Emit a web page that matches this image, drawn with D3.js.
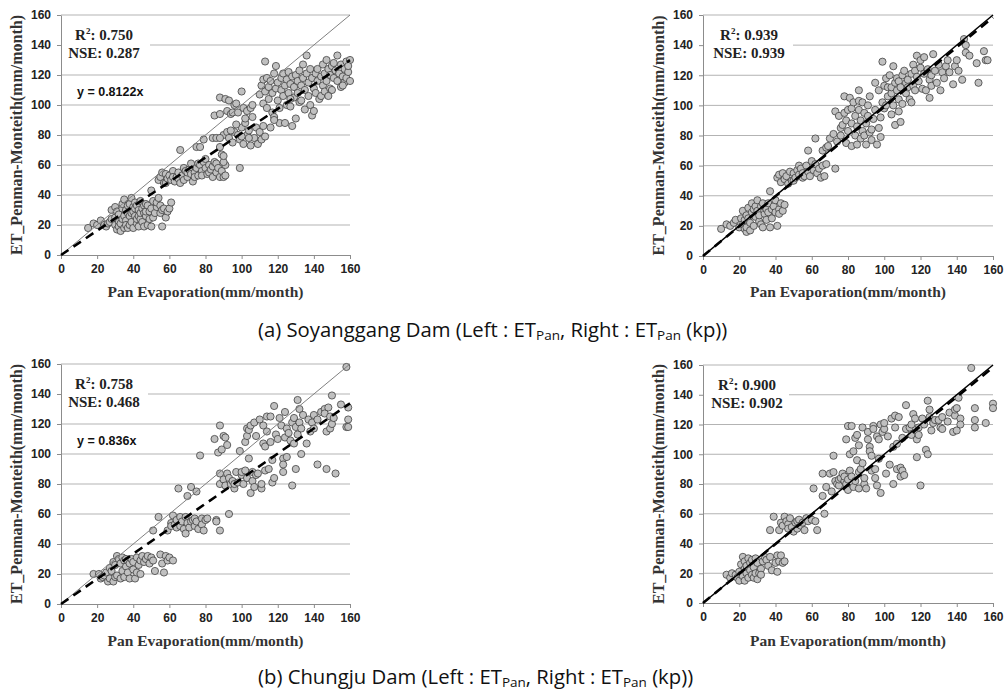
<!DOCTYPE html>
<html>
<head>
<meta charset="utf-8">
<script src="https://cdn.jsdelivr.net/npm/d3@7"></script>
<style>
  body { margin: 0; background: #fff; }
  svg { display: block; }
</style>
</head>
<body>
<svg width="1005" height="692"></svg>
<script>
// Axis ticks (same for every panel)
var ticks = [0, 20, 40, 60, 80, 100, 120, 140, 160];

// Soyanggang Dam, ET_Pan : [pan evaporation, ET Penman-Monteith]
var soyLeft = [
  [15,18],[18,21],[20,20],[22,23],[24,20],[25,19],[26,21],[27,22],[28,24],[28,30],[30,32],[30,20],[30,25],
  [31,17],[31,29],[32,22],[32,27],[32,19],[33,16],[33,21],[34,24],[34,31],[34,34],[35,18],[35,26],[35,37],
  [36,23],[36,30],[36,20],[37,28],[37,33],[37,18],[38,26],[38,34],[38,20],[39,22],[39,38],[39,28],[40,32],
  [40,18],[40,29],[41,26],[41,35],[41,31],[42,21],[42,24],[42,33],[43,30],[43,19],[43,26],[44,36],[44,24],
  [44,28],[45,22],[45,31],[46,28],[46,33],[46,19],[47,34],[47,26],[47,29],[48,20],[48,33],[49,24],[49,29],
  [50,43],[50,19],[50,31],[51,36],[51,25],[52,28],[53,32],[53,35],[54,38],[55,28],[55,33],[56,19],[56,30],
  [57,31],[58,25],[59,29],[60,31],[61,35],
  [54,50],[55,52],[56,55],[57,48],[58,54],[58,48],[59,51],[60,53],[61,50],[62,56],[62,52],[63,49],[64,52],
  [65,55],[65,51],[66,48],[66,70],[67,53],[68,50],[68,58],[69,56],[70,52],[70,55],[71,57],[72,54],[72,61],
  [73,49],[74,55],[74,52],[75,58],[75,72],[76,53],[76,61],[77,60],[77,72],[78,56],[78,53],[79,77],[79,62],
  [80,58],[80,64],[81,54],[82,60],[82,55],[83,57],[84,52],[84,59],[84,78],[85,62],[86,55],[86,61],[86,78],
  [87,58],[88,52],[89,56],[90,52],[91,60],[88,72],[89,67],
  [85,93],[88,105],[88,94],[91,104],[93,103],[92,96],[94,94],[95,95],[96,100],[97,101],[98,95],[100,109],
  [101,98],[103,96],[105,98],[106,100],[90,80],[92,82],[93,78],[95,75],[96,82],[98,80],[99,77],[100,85],
  [101,74],[102,88],[103,80],[104,83],[105,73],[106,92],[107,78],[108,85],[109,74],[110,82],[111,77],
  [112,86],[100,79],[97,87],[94,83],[88,78],[90,62],[99,58],[91,53],[90,66],[102,91],[104,78],
  [110,107],[111,113],[112,117],[112,101],[113,129],[113,109],[114,118],[114,98],[115,104],[115,112],
  [116,116],[117,95],[117,108],[118,121],[118,92],[119,126],[119,111],[120,103],[120,115],[121,98],[121,88],
  [122,110],[122,118],[123,106],[123,121],[124,88],[124,113],[125,100],[125,117],[126,122],[126,108],
  [127,99],[127,114],[128,86],[128,119],[129,105],[129,112],[130,91],[130,120],[131,108],[131,116],
  [132,102],[132,123],[133,113],[133,103],[134,118],[135,97],[135,110],[136,133],[136,121],[137,106],
  [137,115],[138,124],[138,100],[139,93],[139,118],[140,96],[140,111],[141,121],[141,108],[142,116],
  [142,124],[143,104],[144,119],[144,106],[145,127],[145,113],[146,121],[146,109],[147,130],[147,116],
  [148,124],[149,111],[149,120],[150,126],[150,110],[151,118],[152,123],[153,133],[153,116],[154,121],
  [155,127],[155,112],[156,119],[157,124],[157,115],[158,129],[158,118],[159,122],[160,130],[160,116],
  [159,126],[156,113],[151,128],[148,106],[134,127],[127,104],[113,79],[116,85],[118,90]
];

// Soyanggang Dam, ET_Pan (kp)
var soyRight = [
  [10,18],[13,21],[15,20],[17,22],[18,24],[20,19],[21,25],[22,30],[22,21],[23,18],[23,24],[24,16],[24,27],
  [24,19],[25,32],[25,25],[26,22],[26,17],[27,35],[27,29],[28,20],[28,31],[29,26],[29,33],[30,37],[30,30],
  [31,23],[31,27],[32,33],[32,21],[33,19],[33,35],[34,28],[35,31],[35,24],[36,35],[36,29],[37,19],[37,43],
  [38,25],[38,31],[39,33],[40,29],[40,37],[41,20],[42,31],[42,28],[43,35],[44,30],[45,34],
  [41,52],[42,54],[43,49],[44,55],[45,51],[46,53],[47,48],[48,56],[49,50],[50,55],[50,50],[51,52],[52,57],
  [53,54],[53,60],[54,58],[55,55],[55,52],[56,53],[57,60],[58,56],[58,70],[59,53],[60,63],[61,57],[62,61],
  [62,78],[63,55],[64,58],[65,52],[66,60],[66,70],[67,53],[68,61],[68,72],[73,58],
  [69,73],[70,78],[72,81],[73,96],[74,76],[75,93],[76,80],[76,85],[77,87],[78,95],[78,106],[79,75],[79,90],
  [80,83],[80,97],[81,105],[82,73],[82,88],[82,98],[83,102],[84,80],[84,93],[85,86],[85,74],[86,97],
  [86,110],[86,103],[87,78],[87,90],[88,83],[88,102],[89,95],[89,80],[90,74],[90,88],[91,100],[91,93],
  [92,82],[92,106],[93,77],[93,84],[94,91],[95,97],[95,115],[96,74],[97,85],[97,110],[98,79],[98,92],
  [99,102],
  [99,129],[100,113],[100,98],[101,118],[101,100],[102,106],[102,112],[103,120],[104,108],[104,94],
  [104,112],[105,126],[105,100],[106,87],[106,115],[107,110],[107,118],[108,96],[108,104],[108,116],
  [109,112],[109,89],[110,120],[110,101],[111,123],[112,108],[112,115],[113,117],[113,112],[114,104],
  [115,121],[115,102],[116,127],[116,113],[117,110],[117,123],[118,133],[118,119],[119,116],[120,125],
  [120,130],[121,111],[122,121],[122,132],[123,110],[124,124],[125,117],[125,105],[126,120],[126,113],
  [127,134],[128,123],[129,115],[130,127],[131,110],[132,122],[133,118],[134,126],[135,130],[136,122],
  [138,114],[139,126],[140,130],[141,123],[143,117],[144,144],[145,140],[145,135],[147,133],[151,128],
  [152,115],[155,136],[156,130],[157,130]
];

// Chungju Dam, ET_Pan
var chuLeft = [
  [18,20],[21,20],[22,17],[23,18],[24,19],[25,21],[26,15],[27,17],[27,24],[28,22],[29,15],[29,28],[30,18],
  [30,26],[31,32],[31,19],[32,30],[33,17],[33,27],[34,22],[34,31],[35,29],[35,18],[36,30],[36,25],[37,21],
  [37,29],[38,27],[38,17],[39,30],[40,23],[40,28],[41,17],[42,31],[42,21],[43,26],[44,20],[44,29],[45,32],
  [46,28],[47,30],[48,32],[49,27],[50,31],[51,29],[52,22],[55,33],[56,27],[57,21],[58,32],[59,29],[60,31],
  [62,29],
  [51,49],[54,58],[59,49],[61,54],[61,52],[62,59],[63,53],[64,56],[64,51],[65,77],[66,52],[66,58],[67,55],
  [68,50],[69,58],[69,47],[70,54],[70,72],[71,51],[72,78],[72,55],[73,56],[74,52],[74,57],[75,55],[75,75],
  [76,50],[77,99],[78,57],[78,53],[79,49],[80,56],[81,57],[86,56],[86,55],[88,49],[93,60],
  [85,110],[87,101],[88,119],[88,87],[88,80],[89,103],[90,83],[90,112],[91,111],[91,79],[92,106],[92,87],
  [93,84],[94,80],[95,82],[96,77],[96,80],[97,88],[98,81],[99,102],[100,86],[100,88],[101,80],[102,108],
  [102,89],[103,112],[103,84],[103,117],[104,97],[104,116],[105,119],[105,74],[106,82],[106,88],[107,121],
  [107,78],[108,112],[108,86],[109,87],[110,123],[111,77],[111,80],[112,107],[112,119],
  [113,105],[113,89],[114,125],[114,115],[115,90],[116,125],[116,108],[117,81],[117,96],[118,132],[118,84],
  [119,113],[120,110],[121,124],[122,119],[123,97],[123,93],[123,88],[124,128],[124,111],[125,117],
  [125,98],[126,114],[127,109],[128,79],[128,121],[129,107],[129,124],[130,118],[130,90],[131,136],
  [131,113],[132,130],[132,121],[133,100],[133,117],[134,126],[136,107],[137,123],[138,115],[139,121],
  [140,126],[140,117],[142,93],[142,123],[144,128],[146,130],[146,127],[147,115],[147,90],[148,131],
  [149,117],[149,125],[150,120],[150,139],[151,124],[152,87],[155,133],[158,158],[158,118],[159,131],
  [159,123],[159,118]
];

// Chungju Dam, ET_Pan (kp)
var chuRight = [
  [13,19],[15,17],[16,20],[18,19],[19,17],[20,15],[20,21],[21,26],[21,19],[22,31],[22,18],[23,28],[23,15],
  [23,23],[24,20],[24,25],[25,30],[25,17],[26,22],[26,27],[27,29],[27,19],[28,17],[28,24],[29,20],[29,30],
  [30,27],[30,16],[31,20],[32,23],[32,19],[33,28],[34,31],[35,29],[36,25],[37,31],[38,22],[40,27],[41,32],
  [41,21],[42,28],[43,32],[44,27],[45,28],
  [37,49],[39,58],[42,49],[43,54],[44,52],[45,58],[46,55],[47,53],[47,50],[48,57],[49,51],[50,48],[51,54],
  [52,50],[52,55],[53,56],[54,52],[55,54],[56,49],[57,57],[58,55],[60,56],[62,55],[63,49],
  [61,77],[66,72],[66,87],[67,60],[68,78],[70,87],[71,75],[72,99],[72,88],[73,82],[74,80],[75,79],[75,83],
  [76,84],[77,87],[78,82],[78,85],[79,110],[79,80],[80,119],[80,76],[80,83],[81,100],[81,89],[82,85],
  [82,119],[83,102],[83,78],[84,111],[84,82],[85,96],[85,113],[86,77],[86,106],[86,88],[87,90],[88,94],
  [88,118],[89,80],[89,84],[90,77],[91,115],[91,110],[92,105],[92,102],[93,89],[93,99],[94,119],[94,117],
  [95,84],[95,90],[96,112],[96,79],[97,110],[97,97],[98,74],[98,120],[99,115],[100,117],
  [100,121],[101,87],[102,112],[103,93],[104,124],[105,80],[105,105],[106,126],[106,118],[107,90],
  [107,107],[108,125],[109,85],[109,91],[110,111],[110,89],[111,86],[112,133],[112,117],[114,118],
  [115,120],[115,113],[116,127],[117,124],[118,98],[118,110],[119,113],[119,118],[120,79],[121,124],
  [122,120],[123,103],[124,136],[124,100],[125,125],[125,130],[126,116],[127,121],[128,123],[130,123],
  [131,118],[132,125],[132,117],[135,122],[136,128],[138,115],[139,126],[139,130],[140,116],[140,131],
  [141,138],[142,124],[142,120],[148,158],[150,131],[150,123],[150,118],[156,121],[160,134],[160,131]
];

// Fitted slopes and fit statistics, in panel order
var slopes = [0.8122, 0.99, 0.836, 0.99];
var r2Labels = ["0.750", "0.939", "0.758", "0.900"];
var nseLabels = ["0.287", "0.939", "0.468", "0.902"];
var eqLabels = ["y = 0.8122x", null, "y = 0.836x", null];

var svg = d3.select("svg");

var panels = [
  {pts: soyLeft,  x0: 61,  x1: 350, y0: 15,  y1: 255, oneToOne: "#808080", box: 150, tx: 104, capY: 297},
  {pts: soyRight, x0: 703, x1: 993, y0: 15,  y1: 256, oneToOne: "#000",    box: 793, tx: 749, capY: 297},
  {pts: chuLeft,  x0: 61,  x1: 350, y0: 364, y1: 604, oneToOne: "#808080", box: 148, tx: 104, capY: 646},
  {pts: chuRight, x0: 703, x1: 993, y0: 365, y1: 603, oneToOne: "#000",    box: 789, tx: 747, capY: 646}
];

panels.forEach(function(p, k) {
  var x = d3.scaleLinear().domain([0, 160]).range([p.x0, p.x1]);
  var y = d3.scaleLinear().domain([0, 160]).range([p.y1, p.y0]);
  var g = svg.append("g");

  // gridlines
  g.selectAll("line.grid").data(ticks.slice(1)).enter().append("line")
    .attr("x1", p.x0).attr("x2", p.x1)
    .attr("y1", d => y(d)).attr("y2", d => y(d))
    .attr("stroke", "#b3b3b3").attr("stroke-width", 1);

  // axes
  var ya = g.append("g").attr("transform", "translate(" + p.x0 + ",0)")
    .call(d3.axisLeft(y).tickValues(ticks).tickSizeInner(4).tickSizeOuter(0).tickPadding(6));
  var xa = g.append("g").attr("transform", "translate(0," + p.y1 + ")")
    .call(d3.axisBottom(x).tickValues(ticks).tickSizeInner(4).tickSizeOuter(0).tickPadding(5));
  [ya, xa].forEach(function(a) {
    a.selectAll("path, line").attr("stroke", "#8c8c8c");
    a.selectAll("text").attr("font-family", "Liberation Sans, Arial, sans-serif")
      .attr("font-weight", "bold").attr("font-size", "12px").attr("fill", "#222");
  });

  // white label box over the gridline
  g.append("rect").attr("x", p.x0 + 1).attr("y", p.y0 + 8)
    .attr("width", p.box - p.x0 - 1).attr("height", 48).attr("fill", "#fff");

  g.append("text").attr("x", p.tx).attr("y", p.y0 + 25)
    .attr("text-anchor", "middle")
    .attr("font-family", "Liberation Serif, Times New Roman, serif")
    .attr("font-weight", "bold").attr("font-size", "15px").attr("fill", "#222")
    .call(function(t) {
      t.append("tspan").text("R");
      t.append("tspan").text("2").attr("font-size", "9px").attr("dy", -6);
      t.append("tspan").text(": " + r2Labels[k]).attr("dy", 6);
    });
  g.append("text").attr("x", p.tx).attr("y", p.y0 + 43)
    .attr("text-anchor", "middle")
    .attr("font-family", "Liberation Serif, Times New Roman, serif")
    .attr("font-weight", "bold").attr("font-size", "15px").attr("fill", "#222")
    .text("NSE: " + nseLabels[k]);

  if (eqLabels[k]) {
    g.append("text").attr("x", p.x0 + 16).attr("y", p.y0 + 81)
      .attr("font-family", "Liberation Sans, Arial, sans-serif")
      .attr("font-weight", "bold").attr("font-size", "12.5px").attr("fill", "#111")
      .text(eqLabels[k]);
  }

  // points
  g.selectAll("circle").data(p.pts).enter().append("circle")
    .attr("cx", d => x(d[0])).attr("cy", d => y(d[1]))
    .attr("r", 3.6)
    .attr("fill", "#c0c0c0").attr("stroke", "#404040").attr("stroke-width", 0.8);

  // 1:1 line and fitted line
  g.append("line")
    .attr("x1", x(0)).attr("y1", y(0)).attr("x2", x(160)).attr("y2", y(160))
    .attr("stroke", p.oneToOne).attr("stroke-width", p.oneToOne === "#000" ? 1.5 : 1);
  g.append("line")
    .attr("x1", x(0)).attr("y1", y(0)).attr("x2", x(160)).attr("y2", y(160 * slopes[k]))
    .attr("stroke", "#000").attr("stroke-width", 2.6).attr("stroke-dasharray", "9,6");

  // axis titles
  g.append("text").attr("x", (p.x0 + p.x1) / 2).attr("y", p.capY)
    .attr("text-anchor", "middle")
    .attr("font-family", "Liberation Serif, Times New Roman, serif")
    .attr("font-weight", "bold").attr("font-size", "15.5px").attr("fill", "#333")
    .text("Pan Evaporation(mm/month)");
  g.append("text")
    .attr("transform", "translate(" + (p.x0 - 39) + "," + ((p.y0 + p.y1) / 2) + ") rotate(-90)")
    .attr("text-anchor", "middle")
    .attr("font-family", "Liberation Serif, Times New Roman, serif")
    .attr("font-weight", "bold").attr("font-size", "16px").attr("fill", "#333")
    .text("ET_Penman-Monteith(mm/month)");
});

// captions
var captions = [
  {lead: "(a) Soyanggang Dam (Left : ET", y: 337},
  {lead: "(b) Chungju Dam (Left : ET", y: 684}
];
captions.forEach(function(c) {
  svg.append("text").attr("x", 258).attr("y", c.y)
    .attr("font-family", "Open Sans, Noto Sans, sans-serif")
    .attr("font-size", "20.3px").attr("fill", "#111")
    .call(function(t) {
      t.append("tspan").text(c.lead);
      t.append("tspan").text("Pan").attr("font-size", "13.5px").attr("dy", 3);
      t.append("tspan").text(", Right : ET").attr("dy", -3);
      t.append("tspan").text("Pan").attr("font-size", "13.5px").attr("dy", 3);
      t.append("tspan").text(" (kp))").attr("dy", -3);
    });
});
</script>
</body>
</html>
